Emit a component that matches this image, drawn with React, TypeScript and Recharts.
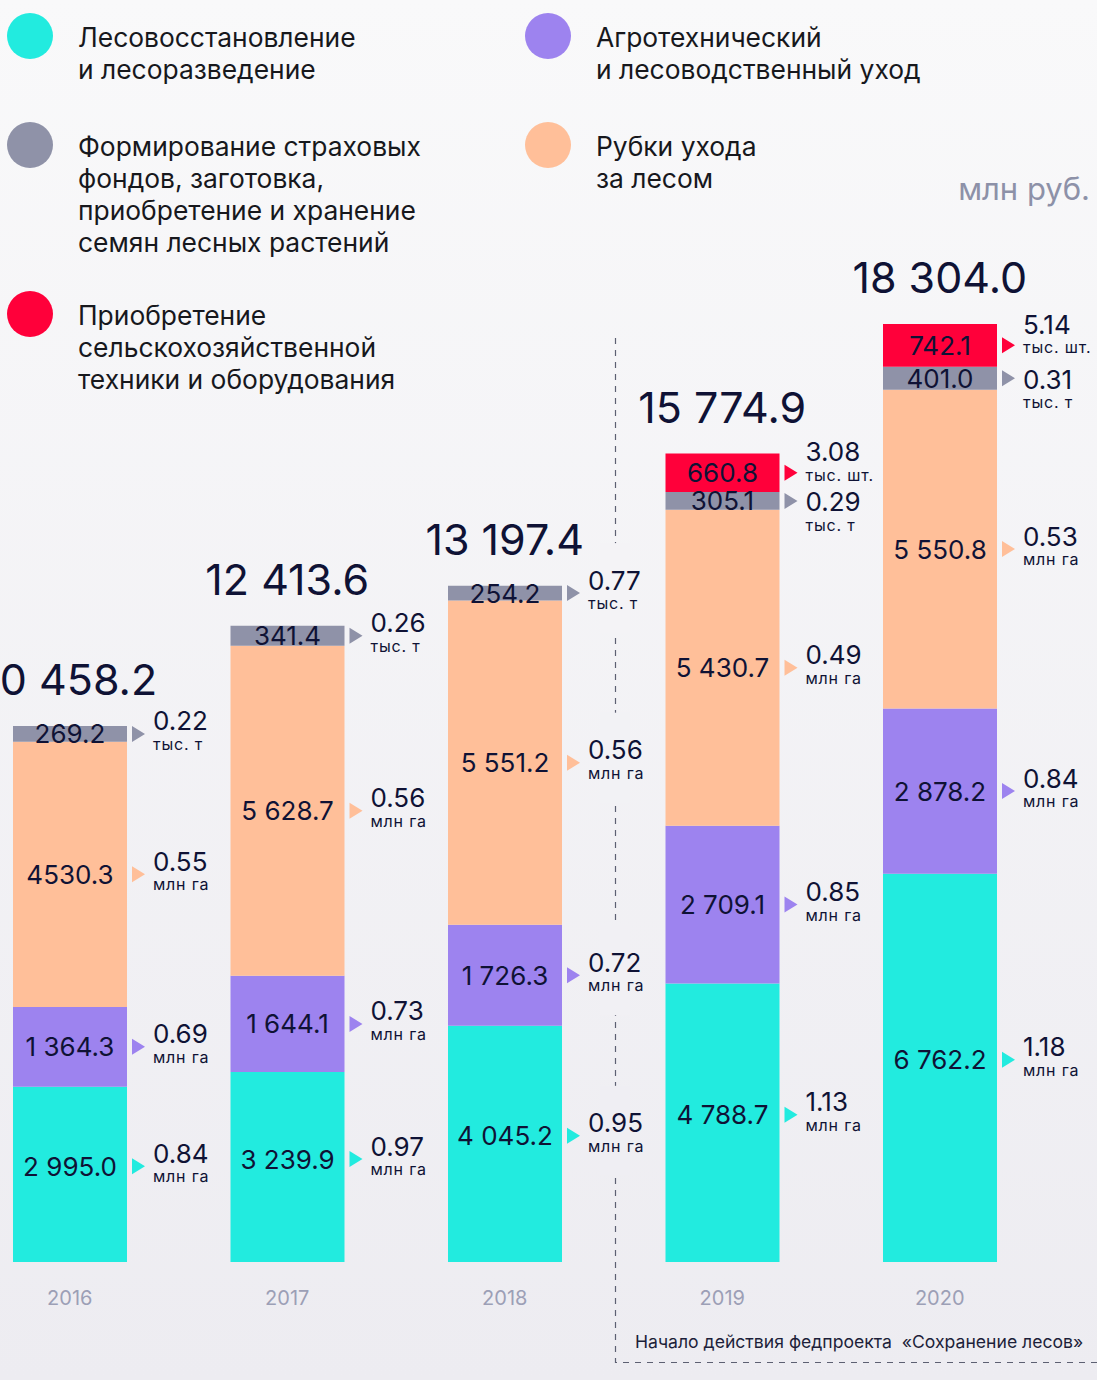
import React from "react";
import { ComposedChart, Bar, Line, XAxis, YAxis, LabelList } from "recharts";

// млн руб.
const years = ["2016", "2017", "2018", "2019", "2020"];
const totals = [10458.2, 12413.6, 13197.4, 15774.9, 18304.0];
const reforestation = [2995.0, 3239.9, 4045.2, 4788.7, 6762.2];
const care = [1364.3, 1644.1, 1726.3, 2709.1, 2878.2];
const thinning = [4530.3, 5628.7, 5551.2, 5430.7, 5550.8];
const seeds = [269.2, 341.4, 254.2, 305.1, 401.0];
const machinery = [0, 0, 0, 660.8, 742.1];

// physical volumes shown beside the bars
const reforestationArea = [0.84, 0.97, 0.95, 1.13, 1.18];
const careArea = [0.69, 0.73, 0.72, 0.85, 0.84];
const thinningArea = [0.55, 0.56, 0.56, 0.49, 0.53];
const seedsMass = [0.22, 0.26, 0.77, 0.29, 0.31];
const machineryUnits = [0, 0, 0, 3.08, 5.14];

const INK = "#0f1235";

const series = [
  { key: "reforestation", values: reforestation, volume: reforestationArea, unit: "млн га", color: "#22ebdf", dy: -8 },
  { key: "care", values: care, volume: careArea, unit: "млн га", color: "#9d83ef", dy: 0 },
  { key: "thinning", values: thinning, volume: thinningArea, unit: "млн га", color: "#ffbf99", dy: 0 },
  { key: "seeds", values: seeds, volume: seedsMass, unit: "тыс. т", color: "#8f92a8", dy: 0 },
  { key: "machinery", values: machinery, volume: machineryUnits, unit: "тыс. шт.", color: "#ff003a", dy: 0 },
];

const legend = [
  { color: "#22ebdf", x: 30, y: 36, lines: ["Лесовосстановление", "и лесоразведение"] },
  { color: "#9d83ef", x: 548, y: 36, lines: ["Агротехнический", "и лесоводственный уход"] },
  { color: "#8f92a8", x: 30, y: 145, lines: ["Формирование страховых", "фондов, заготовка,", "приобретение и хранение", "семян лесных растений"] },
  { color: "#ffbf99", x: 548, y: 145, lines: ["Рубки ухода", "за лесом"] },
  { color: "#ff003a", x: 30, y: 314, lines: ["Приобретение", "сельскохозяйственной", "техники и оборудования"] },
];

// bars are drawn so that the stack reaches the year's total
const data = years.map((year, i) => {
  const sum = series.reduce((s, k) => s + k.values[i], 0);
  const row: any = { year, idx: i, total: totals[i] };
  series.forEach((k) => {
    row[k.key] = (k.values[i] * totals[i]) / sum;
  });
  return row;
});

const fmt = (v: number, group = true) => {
  const [int, dec] = v.toFixed(1).split(".");
  const g = group ? int.replace(/\B(?=(\d{3})+(?!\d))/g, " ") : int;
  return g + "." + dec;
};

const bgAt = (y: number) => {
  const t = Math.max(0, Math.min(1, y / 1380));
  const a = [249, 249, 250];
  const b = [237, 236, 241];
  const c = a.map((v, j) => Math.round(v + (b[j] - v) * t));
  return `rgb(${c[0]},${c[1]},${c[2]})`;
};

const FONT = "Inter, 'Noto Sans', sans-serif";

const makeLabel = (s: any) => (props: any) => {
  const vb = props.viewBox || {};
  const x = props.x ?? vb.x;
  const y = props.y ?? vb.y;
  const width = props.width ?? vb.width;
  const height = props.height ?? vb.height;
  const index = props.value; // LabelList reads "idx"
  const raw = s.values[index];
  if (!raw) return null;
  const cx = x + width / 2;
  const cy = y + height / 2 + s.dy;
  const bx = x + width;
  let valueY = cy - 13;
  let unitY = cy + 10;
  if (s.key === "seeds" && machinery[index] > 0) {
    valueY = cy + 1;
    unitY = cy + 24;
  }
  if (s.key === "machinery") {
    valueY = cy - 21;
    unitY = cy + 2;
  }
  const group = !(s.key === "thinning" && index === 0);
  return (
    <g>
      {index === 2 && (
        <rect x={bx + 38} y={cy - 50} width={30} height={90} fill={bgAt(cy)} />
      )}
      <text x={cx} y={cy} textAnchor="middle" dominantBaseline="central" fontSize={26} fill={INK} fontFamily={FONT}>
        {fmt(raw, group)}
      </text>
      <path d={`M${bx + 5},${cy - 8} L${bx + 18},${cy} L${bx + 5},${cy + 8} Z`} fill={s.color} />
      <text x={bx + 26} y={valueY} dominantBaseline="central" fontSize={26} fill={INK} fontFamily={FONT}>
        {s.volume[index].toFixed(2)}
      </text>
      <text x={bx + 26} y={unitY} dominantBaseline="central" fontSize={16} letterSpacing={0.8} fill={INK} fontFamily={FONT}>
        {s.unit}
      </text>
    </g>
  );
};

const TotalLabel = (props: any) => {
  const vb = props.viewBox || {};
  const x = props.x ?? vb.x;
  const y = props.y ?? vb.y;
  return (
    <text x={x} y={y - 47} textAnchor="middle" dominantBaseline="central" fontSize={43} fill={INK} fontFamily={FONT}>
      {fmt(props.value)}
    </text>
  );
};

const YearTick = (props: any) => (
  <text x={props.x} y={props.y + 36} textAnchor="middle" dominantBaseline="central" fontSize={20} fill="#9c9fb6" fontFamily={FONT}>
    {props.payload.value}
  </text>
);

export default function App() {
  return (
    <div
      style={{
        position: "relative",
        width: 1097,
        height: 1380,
        overflow: "hidden",
        background: "linear-gradient(180deg, #f9f9fa 0%, #edecf1 100%)",
        fontFamily: FONT,
      }}
    >
      <style>{"body{margin:0}"}</style>
      <svg width={1097} height={1380} style={{ position: "absolute", left: 0, top: 0 }}>
        <path d="M615.5,338 L615.5,1362.5 L1097,1362.5" fill="none" stroke="#5d6072" strokeWidth={1.2} strokeDasharray="6 6" />
      </svg>
      {legend.map((l, i) => (
        <React.Fragment key={i}>
          <div
            style={{
              position: "absolute",
              left: l.x - 23,
              top: l.y - 23,
              width: 46,
              height: 46,
              borderRadius: "50%",
              background: l.color,
            }}
          />
          <div
            style={{
              position: "absolute",
              left: l.x + 48,
              top: l.y - 15,
              fontSize: 26.4,
              lineHeight: "32px",
              color: "#17181d",
              whiteSpace: "nowrap",
            }}
          >
            {l.lines.map((t, j) => (
              <div key={j}>{t}</div>
            ))}
          </div>
        </React.Fragment>
      ))}
      <div style={{ position: "absolute", right: 7, top: 170, fontSize: 31, lineHeight: "38px", color: "#8d91a8" }}>
        млн руб.
      </div>
      <div style={{ position: "absolute", left: 635, top: 1331, fontSize: 17.6, lineHeight: "22px", color: "#1d1f3a", whiteSpace: "pre" }}>
        {"Начало действия федпроекта  «Сохранение лесов»"}
      </div>
      <div style={{ position: "absolute", left: -39, top: 0 }}>
        <ComposedChart
          width={1136}
          height={1380}
          data={data}
          margin={{ top: 237.1, right: 48.5, bottom: 88, left: 0 }}
        >
          <XAxis dataKey="year" axisLine={false} tickLine={false} tickSize={0} tickMargin={0} height={30} tick={<YearTick />} interval={0} />
          <YAxis hide domain={[0, 20000]} />
          {series.map((s) => (
            <Bar key={s.key} dataKey={s.key} stackId="a" fill={s.color} barSize={114} isAnimationActive={false}>
              <LabelList dataKey="idx" content={makeLabel(s)} />
            </Bar>
          ))}
          <Line dataKey="total" stroke="none" dot={false} activeDot={false} isAnimationActive={false}>
            <LabelList dataKey="total" content={<TotalLabel />} />
          </Line>
        </ComposedChart>
      </div>
    </div>
  );
}
